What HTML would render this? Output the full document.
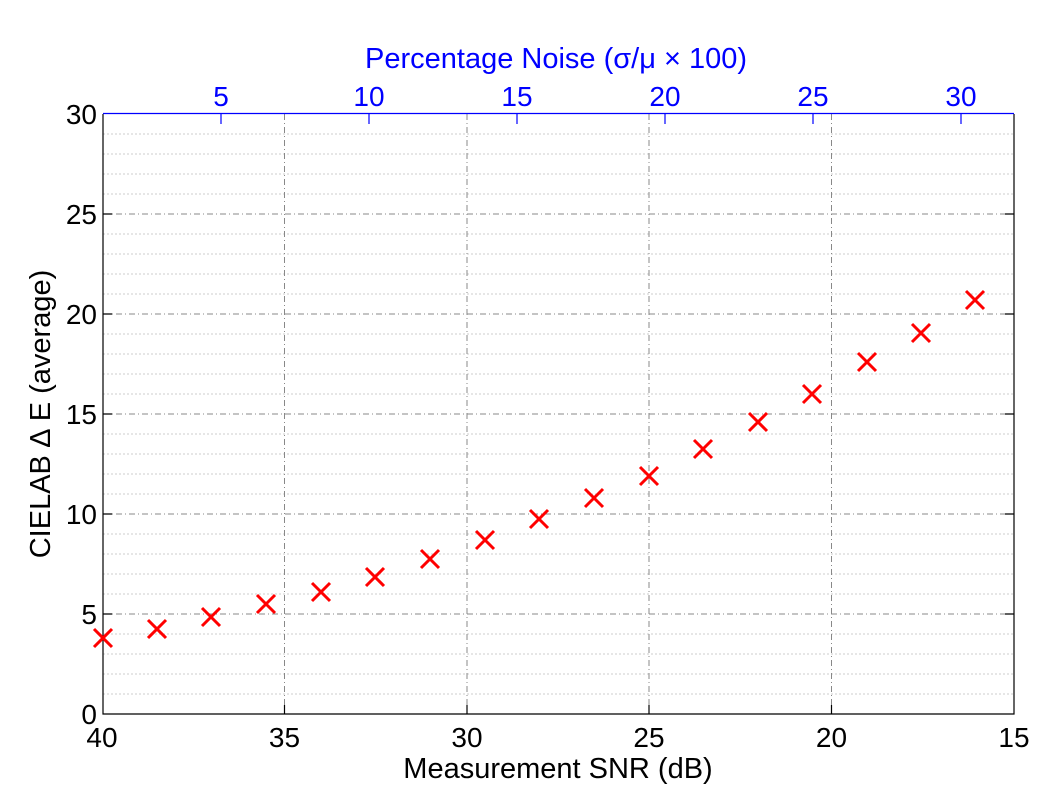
<!DOCTYPE html>
<html><head><style>body{margin:0;background:#fff}svg{display:block}text{font-family:"Liberation Sans",sans-serif}</style></head><body>
<svg width="1050" height="788" viewBox="0 0 1050 788">
<rect width="1050" height="788" fill="#fff"/>
<g stroke="#ccc" stroke-width="1" stroke-dasharray="2,2">
<path d="M103 134H1014M103 154H1014M103 174H1014M103 194H1014M103 234H1014M103 254H1014M103 274H1014M103 294H1014M103 334H1014M103 354H1014M103 374H1014M103 394H1014M103 434H1014M103 454H1014M103 474H1014M103 494H1014M103 534H1014M103 554H1014M103 574H1014M103 594H1014M103 634H1014M103 654H1014M103 674H1014M103 694H1014"/>
</g>
<g stroke="#888" stroke-width="1" stroke-dasharray="6,3,1,3">
<path d="M103 214H1014M103 314H1014M103 414H1014M103 514H1014M103 614H1014"/>
<path d="M284.5 114V714M467 114V714M649 114V714M831.5 114V714"/>
</g>
<g stroke="#000" stroke-width="1.2" fill="none">
<path d="M103 114V714H1014V114"/>
<path d="M103 214h9M103 314h9M103 414h9M103 514h9M103 614h9M1014 214h-9M1014 314h-9M1014 414h-9M1014 514h-9M1014 614h-9"/>
<path d="M284.5 714v-9M467 714v-9M649 714v-9M831.5 714v-9"/>
</g>
<g stroke="#00f" stroke-width="1.2"><path d="M103 113.5H1014"/><path d="M221 114v10M369 114v10M517 114v10M665 114v10M813 114v10M961 114v10"/></g>
<g font-size="28" text-anchor="end" fill="#000">
<text x="97" y="124">30</text><text x="97" y="224">25</text><text x="97" y="324">20</text><text x="97" y="424">15</text><text x="97" y="524">10</text><text x="97" y="624">5</text><text x="97" y="724">0</text>
</g>
<g font-size="28" text-anchor="middle" fill="#000">
<text x="102" y="747">40</text><text x="284.5" y="747">35</text><text x="467" y="747">30</text><text x="649" y="747">25</text><text x="831.5" y="747">20</text><text x="1014" y="747">15</text>
<text x="558" y="778" font-size="29">Measurement SNR (dB)</text>
</g>
<g font-size="28" text-anchor="middle" fill="#00f">
<text x="221" y="106">5</text><text x="369" y="106">10</text><text x="517" y="106">15</text><text x="665" y="106">20</text><text x="813" y="106">25</text><text x="961" y="106">30</text>
<text x="556" y="68" font-size="29">Percentage Noise (σ/μ × 100)</text>
</g>
<text font-size="29" text-anchor="middle" transform="translate(50 414) rotate(-90)">CIELAB ∆ E (average)</text>
<g stroke="#f00" stroke-width="3" fill="none">
<path d="M-9 -9L9 9M-9 9L9 -9" transform="translate(103 638)"/>
<path d="M-9 -9L9 9M-9 9L9 -9" transform="translate(157 629)"/>
<path d="M-9 -9L9 9M-9 9L9 -9" transform="translate(211 617)"/>
<path d="M-9 -9L9 9M-9 9L9 -9" transform="translate(266 604)"/>
<path d="M-9 -9L9 9M-9 9L9 -9" transform="translate(321 592)"/>
<path d="M-9 -9L9 9M-9 9L9 -9" transform="translate(375 577)"/>
<path d="M-9 -9L9 9M-9 9L9 -9" transform="translate(430 559)"/>
<path d="M-9 -9L9 9M-9 9L9 -9" transform="translate(485 540)"/>
<path d="M-9 -9L9 9M-9 9L9 -9" transform="translate(539 519)"/>
<path d="M-9 -9L9 9M-9 9L9 -9" transform="translate(594 498)"/>
<path d="M-9 -9L9 9M-9 9L9 -9" transform="translate(649 476)"/>
<path d="M-9 -9L9 9M-9 9L9 -9" transform="translate(703 449)"/>
<path d="M-9 -9L9 9M-9 9L9 -9" transform="translate(758 422)"/>
<path d="M-9 -9L9 9M-9 9L9 -9" transform="translate(812 394)"/>
<path d="M-9 -9L9 9M-9 9L9 -9" transform="translate(867 362)"/>
<path d="M-9 -9L9 9M-9 9L9 -9" transform="translate(921 333)"/>
<path d="M-9 -9L9 9M-9 9L9 -9" transform="translate(975 300)"/>
</g>
</svg>
</body></html>
